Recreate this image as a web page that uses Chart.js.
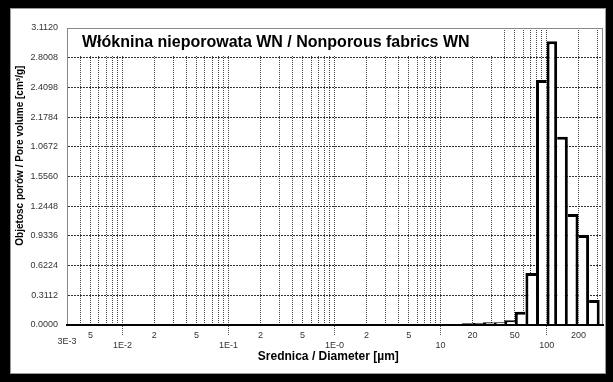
<!DOCTYPE html>
<html><head><meta charset="utf-8">
<script src="https://cdn.jsdelivr.net/npm/chart.js@4.4.0/dist/chart.umd.min.js"></script>
<style>html,body{margin:0;padding:0;background:#000;overflow:hidden}canvas{display:block}</style>
</head><body>
<canvas id="c" width="613" height="382"></canvas>
<script>
// ---- data ----
const chartTitle = 'Włóknina nieporowata WN / Nonporous fabrics WN';
const xAxisTitle = 'Srednica / Diameter [µm]';
const yAxisTitle = 'Objetosc porów / Pore volume [cm³/g]';
// bin centres (µm), log-uniform bins of 0.1 decade
const binCenters = [17.8, 22.4, 28.2, 35.5, 44.7, 56.2, 70.8, 89.1, 112, 141, 178, 224, 282];
const poreVolume = [0.018, 0.020, 0.028, 0.030, 0.050, 0.139, 0.545, 2.567, 2.973, 1.973, 1.163, 0.943, 0.262];
const xTickValues = [0.003, 0.005, 0.01, 0.02, 0.05, 0.1, 0.2, 0.5, 1, 2, 5, 10, 20, 50, 100, 200];
const xTickLabels = ['3E-3', '5', '1E-2', '2', '5', '1E-1', '2', '5', '1E-0', '2', '5', '10', '20', '50', '100', '200'];
const yTickValues = [0, 0.3112, 0.6224, 0.9336, 1.2448, 1.5560, 1.8672, 2.1784, 2.4896, 2.8008, 3.1120];
const yTickLabels = ['0.0000', '0.3112', '0.6224', '0.9336', '1.2448', '1.5560', '1.0672', '2.1784', '2.4098', '2.8008', '3.1120'];
const xMin = 0.003, xMax = 340;
const yMin = 0, yMax = 3.112;

// ---- helpers ----
const FONT = '"Liberation Sans", Arial, sans-serif';
const isPow10 = v => { const l = Math.log10(v); return Math.abs(l - Math.round(l)) < 1e-9; };
const gridValues = [];
for (let e = -3; e <= 2; e++) {
  for (let m = 1; m <= 9; m++) {
    const v = parseFloat((m * Math.pow(10, e)).toPrecision(6));
    if (v >= xMin * (1 - 1e-9) && v <= xMax) gridValues.push(v);
  }
}
const findX = v => xTickValues.findIndex(t => Math.abs(t - v) / t < 1e-6);

const framePlugin = {
  id: 'frame',
  beforeDraw(chart) {
    const ctx = chart.ctx;
    ctx.save();
    ctx.fillStyle = '#000';
    ctx.fillRect(0, 0, chart.width, chart.height);
    ctx.fillStyle = '#fff';
    ctx.fillRect(10, 8, 596, 366);
    ctx.strokeStyle = '#9a9a9a';
    ctx.lineWidth = 1;
    ctx.strokeRect(10.5, 8.5, 595, 365);
    ctx.restore();
  },
  beforeDatasetsDraw(chart) {
    const {ctx, chartArea: a} = chart;
    ctx.save();
    ctx.fillStyle = '#fff';
    ctx.fillRect(a.left + 1, a.top, 434, 28);
    ctx.strokeStyle = '#888';
    ctx.lineWidth = 1;
    ctx.strokeRect(a.left + 0.5, a.top + 0.5, a.right - a.left - 1, a.bottom - a.top);
    ctx.fillStyle = '#000';
    ctx.font = 'bold 16px ' + FONT;
    ctx.textBaseline = 'alphabetic';
    ctx.textAlign = 'left';
    ctx.fillText(chartTitle, a.left + 15, a.top + 19);
    ctx.restore();
  }
};

new Chart(document.getElementById('c'), {
  type: 'bar',
  data: {
    datasets: [{
      data: binCenters.map((x, i) => ({x: x, y: poreVolume[i]})),
      backgroundColor: '#fff',
      borderColor: '#000',
      borderSkipped: 'start',
      borderWidth: (c) => {
        const i = c.dataIndex, d = poreVolume, w = 3;
        if (i === undefined) return w;
        let left = w, right = w;
        if (i > 0 && d[i - 1] >= d[i]) left = 0;
        else if (i < d.length - 1 && d[i + 1] >= d[i]) right = 0;
        return {top: w, bottom: 0, left: left, right: right};
      },
      barThickness: 'flex',
      categoryPercentage: 1,
      barPercentage: 1,
      inflateAmount: 0
    }]
  },
  options: {
    responsive: false,
    animation: false,
    devicePixelRatio: 1,
    events: [],
    layout: {padding: {left: 0, right: 10, top: 28, bottom: 0}},
    plugins: {legend: {display: false}, tooltip: {enabled: false}, title: {display: false}},
    scales: {
      x: {
        type: 'logarithmic',
        position: 'bottom',
        min: xMin, max: xMax,
        offset: false,
        afterFit: s => { s.height = 57; },
        afterBuildTicks: s => { s.ticks = gridValues.map(v => ({value: v})); },
        grid: {
          offset: false, color: '#444', lineWidth: 1, z: -1,
          drawTicks: true, tickLength: 10, tickWidth: 1, tickBorderDash: [1, 1],
          tickColor: c => (c.tick && isPow10(c.tick.value)) ? '#555' : 'rgba(0,0,0,0)'
        },
        border: {display: true, color: '#000', width: 2, dash: [1, 1], z: 1},
        ticks: {
          autoSkip: false, maxRotation: 0, minRotation: 0, padding: -4, color: '#333',
          font: c => ({family: FONT, size: 9,
            lineHeight: (c.tick && Math.abs(c.tick.value - xMin) / xMin < 1e-6) ? '7.3px' : '10px'}),
          callback: (v) => {
            const i = findX(v);
            if (i < 0) return '';
            const lab = xTickLabels[i];
            return (isPow10(v) || i === 0) ? ['', lab] : lab;
          }
        },
        title: {
          display: true, text: xAxisTitle + '    ', color: '#000',
          font: {family: FONT, size: 12, weight: 'bold'},
          padding: {top: 0, bottom: 18}
        }
      },
      y: {
        type: 'linear',
        min: yMin, max: yMax,
        afterFit: s => { s.width = 67; },
        afterBuildTicks: s => { s.ticks = yTickValues.map(v => ({value: v})); },
        grid: {color: '#333', lineWidth: 1, drawTicks: false, z: -1},
        border: {display: true, color: '#888', width: 1, dash: [2, 1]},
        ticks: {
          padding: 9, color: '#333', font: {family: FONT, size: 9},
          callback: (v, i) => yTickLabels[i]
        },
        title: {
          display: true, text: ' '.repeat(15) + yAxisTitle, color: '#000',
          font: {family: FONT, size: 10, weight: 'bold'},
          padding: {top: 14, bottom: 0}
        }
      }
    }
  },
  plugins: [framePlugin]
});
</script>
</body></html>
